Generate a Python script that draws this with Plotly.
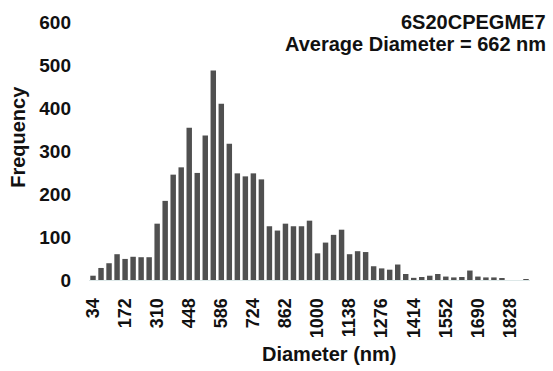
import plotly.graph_objects as go

# Diameter bins (nm) and counts for sample 6S20CPEGME7
bins = ["34", "69", "103", "138", "172", "207", "241", "276", "310", "345",
        "379", "414", "448", "483", "517", "552", "586", "621", "655", "690",
        "724", "759", "793", "828", "862", "897", "931", "966", "1000", "1035",
        "1069", "1104", "1138", "1173", "1207", "1242", "1276", "1311", "1345", "1380",
        "1414", "1449", "1483", "1518", "1552", "1587", "1621", "1656", "1690", "1725",
        "1759", "1794", "1828", "1863", "1897"]
counts = [10, 28, 39, 60, 49, 54, 53, 53, 131, 184,
          245, 262, 354, 249, 336, 487, 410, 317, 248, 241,
          248, 234, 125, 115, 131, 125, 125, 138, 62, 87,
          105, 117, 60, 67, 65, 32, 27, 24, 36, 14,
          5, 7, 10, 14, 8, 6, 7, 22, 8, 6,
          6, 4, 0, 0, 2]
tick_labels = ["34", "172", "310", "448", "586", "724", "862", "1000",
               "1138", "1276", "1414", "1552", "1690", "1828"]
y_ticks = [0, 100, 200, 300, 400, 500, 600]

FONT = "Liberation Sans, Arial, sans-serif"
bold = dict(family=FONT, size=20, color="#111111", weight="bold")
tick_font = dict(family=FONT, size=18, color="#111111", weight="bold")

fig = go.Figure(go.Bar(
    x=bins, y=counts,
    marker=dict(color="#505050", line=dict(width=0)),
))

fig.update_layout(
    width=553, height=371,
    margin=dict(l=89, r=23, t=17, b=91),
    paper_bgcolor="white", plot_bgcolor="white",
    bargap=0.32,
    showlegend=False,
    font=bold,
    xaxis=dict(
        type="category",
        categoryorder="array", categoryarray=bins,
        tickmode="array", tickvals=tick_labels, ticktext=tick_labels,
        tickangle=-90, tickfont=tick_font,
        ticks="", showgrid=False, zeroline=False,
        showline=True, linecolor="#dde8e8", linewidth=1,
        ticklabelstandoff=10,
        range=[-0.5, len(bins) - 0.5],
    ),
    yaxis=dict(
        range=[0, 600],
        tickmode="array", tickvals=y_ticks,
        tickfont=dict(family=FONT, size=19, color="#111111", weight="bold"),
        ticks="", showgrid=False, zeroline=False, showline=False,
        ticklabelstandoff=17,
    ),
    annotations=[
        dict(text="6S20CPEGME7", xref="paper", yref="paper",
             x=1.04, y=1.0, xanchor="right", yanchor="middle",
             showarrow=False, font=bold),
        dict(text="Average Diameter = 662 nm", xref="paper", yref="paper",
             x=1.04, y=0.915, xanchor="right", yanchor="middle",
             showarrow=False, font=bold),
        dict(text="Diameter (nm)", xref="paper", yref="paper",
             x=0.545, y=-0.287, xanchor="center", yanchor="middle",
             showarrow=False, font=bold),
        dict(text="Frequency", xref="paper", yref="paper",
             x=-0.161, y=0.555, xanchor="center", yanchor="middle",
             textangle=-90, showarrow=False, font=bold),
    ],
)

fig.write_html("out.html")
